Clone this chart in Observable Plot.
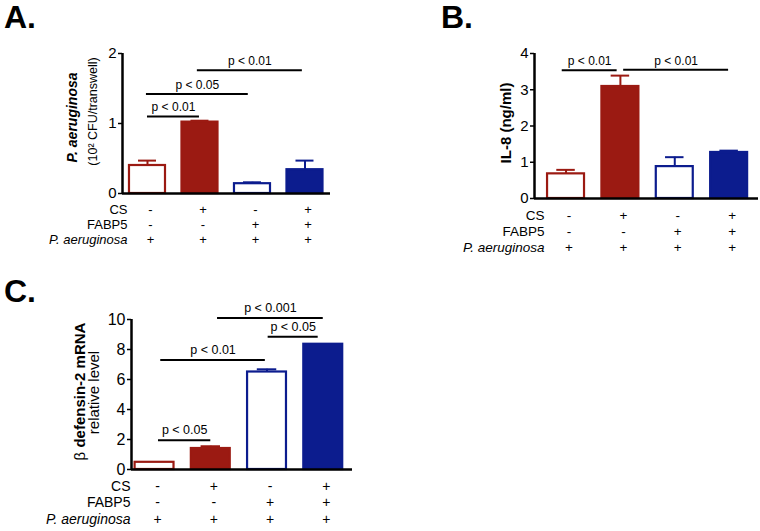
<!DOCTYPE html>
<html>
<head>
<meta charset="utf-8">
<script src="https://cdn.jsdelivr.net/npm/d3@7"></script>
<script src="https://cdn.jsdelivr.net/npm/@observablehq/plot@0.6"></script>
<style>
  html, body { margin: 0; padding: 0; background: #fff; }
  #fig { position: relative; width: 760px; height: 531px; overflow: hidden; font-family: "Liberation Sans", Arial, sans-serif; }
  .panel { position: absolute; z-index: 1; }
  .letter { position: absolute; z-index: 5; font-size: 32px; line-height: 32px; font-weight: bold; color: #000; }
</style>
</head>
<body>
<div id="fig">
  <div class="panel" id="pA" style="left:0px;top:0px"></div>
  <div class="panel" id="pB" style="left:380px;top:0px"></div>
  <div class="panel" id="pC" style="left:0px;top:270px"></div>
  <div class="letter" style="left:4px;top:1px">A.</div>
  <div class="letter" style="left:441px;top:1px">B.</div>
  <div class="letter" style="left:4px;top:275px">C.</div>
</div>
<script>
// ---- Data ----
const conditions = ["CS-/FABP5-", "CS+/FABP5-", "CS-/FABP5+", "CS+/FABP5+"];
const rowLabels = ["CS", "FABP5", "P. aeruginosa"];
const csRow = ["-", "+", "-", "+"];
const fabp5Row = ["-", "-", "+", "+"];
const paRow = ["+", "+", "+", "+"];
const barColors = ["#9b1a12", "#9b1a12", "#0c1c8e", "#0c1c8e"];
const barFilled = [false, true, false, true];

// Panel A: P. aeruginosa (10^2 CFU/transwell)
const aValues = [0.40, 1.02, 0.14, 0.34];
const aErrors = [0.07, 0.02, 0.02, 0.13];
const aTicks = [0, 1, 2];
const aBracketFrom = [0, -0.02, 0.95];
const aBracketTo = [0.99, 1.92, 2.95];
const aBracketLevel = [1.10, 1.42, 1.76];
const aBracketLabel = ["p < 0.01", "p < 0.05", "p < 0.01"];

// Panel B: IL-8 (ng/ml)
const bValues = [0.68, 3.09, 0.88, 1.27];
const bErrors = [0.11, 0.30, 0.26, 0.05];
const bTicks = [0, 1, 2, 3, 4];
const bBracketFrom = [-0.07, 1.06];
const bBracketTo = [0.94, 2.99];
const bBracketLevel = [3.54, 3.55];
const bBracketLabel = ["p < 0.01", "p < 0.01"];

// Panel C: beta defensin-2 mRNA relative level
const cValues = [0.48, 1.40, 6.50, 8.35];
const cErrors = [0, 0.15, 0.18, 0];
const cTicks = [0, 2, 4, 6, 8, 10];
const cBracketFrom = [0.07, 0.11, 2.02, 1.12];
const cBracketTo = [1.0, 1.97, 2.91, 3.0];
const cBracketLevel = [1.95, 7.3, 8.85, 10.1];
const cBracketLabel = ["p < 0.05", "p < 0.01", "p < 0.05", "p < 0.001"];

// ---- Drawing ----
const idx = conditions.map((_, i) => i);
const FONT = "'Liberation Sans', Arial, sans-serif";

function panel(o) {
  const hw = o.halfWidth;
  const withErr = idx.filter(i => o.errors[i] > 0);
  const br = o.bracketFrom.map((f, k) => k);
  const rows = [csRow, fabp5Row, paRow];
  const marks = [
    // error bars
    Plot.ruleX(withErr, {x: i => i, y1: i => o.values[i], y2: i => o.values[i] + o.errors[i], stroke: i => barColors[i], strokeWidth: 2}),
    Plot.ruleY(withErr, {y: i => o.values[i] + o.errors[i], x1: i => i - hw * 0.5, x2: i => i + hw * 0.5, stroke: i => barColors[i], strokeWidth: 2}),
    // bars
    Plot.rectY(idx, {x1: i => i - hw, x2: i => i + hw, y1: 0, y2: i => o.values[i],
      fill: i => barFilled[i] ? barColors[i] : "white", stroke: i => barColors[i], strokeWidth: 2.2}),
    // axes lines
    Plot.ruleX([o.xDomain[0]], {y1: 0, y2: o.yDomain[1], strokeWidth: 2.5}),
    Plot.ruleY([0], {strokeWidth: 2.5}),
    Plot.axisY({ticks: o.ticks, tickFormat: d3.format("d"), tickSize: 4, tickPadding: 2, fontSize: o.tickFont, label: null, strokeWidth: 1.5}),
    // significance brackets
    Plot.ruleY(br, {y: k => o.bracketLevel[k], x1: k => o.bracketFrom[k], x2: k => o.bracketTo[k], strokeWidth: 2}),
    Plot.text(br, {x: k => (o.bracketFrom[k] + o.bracketTo[k]) / 2, y: k => o.bracketLevel[k], text: k => o.bracketLabel[k],
      dy: -o.pGap, fontSize: o.pFont, lineAnchor: "middle", textAnchor: "middle"}),
  ];
  // condition table
  rows.forEach((row, r) => {
    marks.push(Plot.text(idx, {x: i => i, text: i => row[i], frameAnchor: "bottom", dy: o.rowDy[r], dx: 3,
      fontSize: o.rowFont, lineAnchor: "middle", textAnchor: "middle"}));
    marks.push(Plot.text([rowLabels[r]], {text: d => d, frameAnchor: "bottom-left", dx: o.rowLabelDx, dy: o.rowDy[r],
      fontSize: o.rowFont, textAnchor: "end", lineAnchor: "middle", fontStyle: r === 2 ? "italic" : "normal"}));
  });
  // y titles
  o.titles.forEach(t => {
    marks.push(Plot.text([t.text], {text: d => d, frameAnchor: "left", rotate: -90, dx: t.dx, dy: t.dy,
      fontSize: t.size, fontWeight: t.weight, fontStyle: t.style || "normal", textAnchor: "middle", lineAnchor: "middle"}));
  });
  return Plot.plot({
    width: o.width, height: o.height,
    marginLeft: o.margin[3], marginRight: o.margin[1], marginTop: o.margin[0], marginBottom: o.margin[2],
    x: {type: "linear", domain: o.xDomain, axis: null},
    y: {domain: o.yDomain, axis: null},
    color: {type: "identity"},
    style: {fontFamily: FONT, fontSize: o.tickFont + "px", color: "black", background: "transparent", overflow: "visible"},
    marks
  });
}

const svgA = panel({
  width: 380, height: 260, margin: [53, 50, 67, 122],
  xDomain: [-0.476, 3.486], yDomain: [0, 2], ticks: aTicks, tickFont: 15,
  values: aValues, errors: aErrors, halfWidth: 0.343,
  bracketFrom: aBracketFrom, bracketTo: aBracketTo, bracketLevel: aBracketLevel, bracketLabel: aBracketLabel,
  pFont: 12, pGap: 9,
  rowDy: [16, 31, 46], rowFont: 13, rowLabelDx: 5,
  titles: [
    {text: "P. aeruginosa", dx: -50, dy: -6, size: 14, weight: "bold", style: "italic"},
    {text: "(10² CFU/transwell)", dx: -30, dy: -12, size: 12.5, weight: "normal"}
  ]
});
document.getElementById("pA").appendChild(svgA);

const svgB = panel({
  width: 380, height: 270, margin: [53, 2, 72, 154],
  xDomain: [-0.58, 3.54], yDomain: [0, 4], ticks: bTicks, tickFont: 15,
  values: bValues, errors: bErrors, halfWidth: 0.34,
  bracketFrom: bBracketFrom, bracketTo: bBracketTo, bracketLevel: bBracketLevel, bracketLabel: bBracketLabel,
  pFont: 12, pGap: 9,
  rowDy: [17, 33, 49], rowFont: 13.5, rowLabelDx: 10,
  titles: [
    {text: "IL-8 (ng/ml)", dx: -28, dy: -3, size: 15, weight: "bold"}
  ]
});
document.getElementById("pB").appendChild(svgB);

const svgC = panel({
  width: 380, height: 261, margin: [49, 28, 62, 131],
  xDomain: [-0.41, 3.52], yDomain: [0, 10], ticks: cTicks, tickFont: 16,
  values: cValues, errors: cErrors, halfWidth: 0.346,
  bracketFrom: cBracketFrom, bracketTo: cBracketTo, bracketLevel: cBracketLevel, bracketLabel: cBracketLabel,
  pFont: 12.5, pGap: 10,
  rowDy: [17, 33, 50], rowFont: 14, rowLabelDx: -1,
  titles: [
    {text: "β defensin-2 mRNA", dx: -51, dy: -3, size: 15, weight: "bold"},
    {text: "relative level", dx: -37, dy: -2, size: 15, weight: "normal"}
  ]
});
document.getElementById("pC").appendChild(svgC);

// Greek beta in regular weight, rest bold
d3.select(svgC).selectAll("text").each(function() {
  if (this.textContent === "β defensin-2 mRNA") {
    const t = d3.select(this);
    t.text(null);
    t.append("tspan").attr("font-weight", "normal").text("β");
    t.append("tspan").attr("font-weight", "bold").text(" defensin-2 mRNA");
  }
});
</script>
</body>
</html>
